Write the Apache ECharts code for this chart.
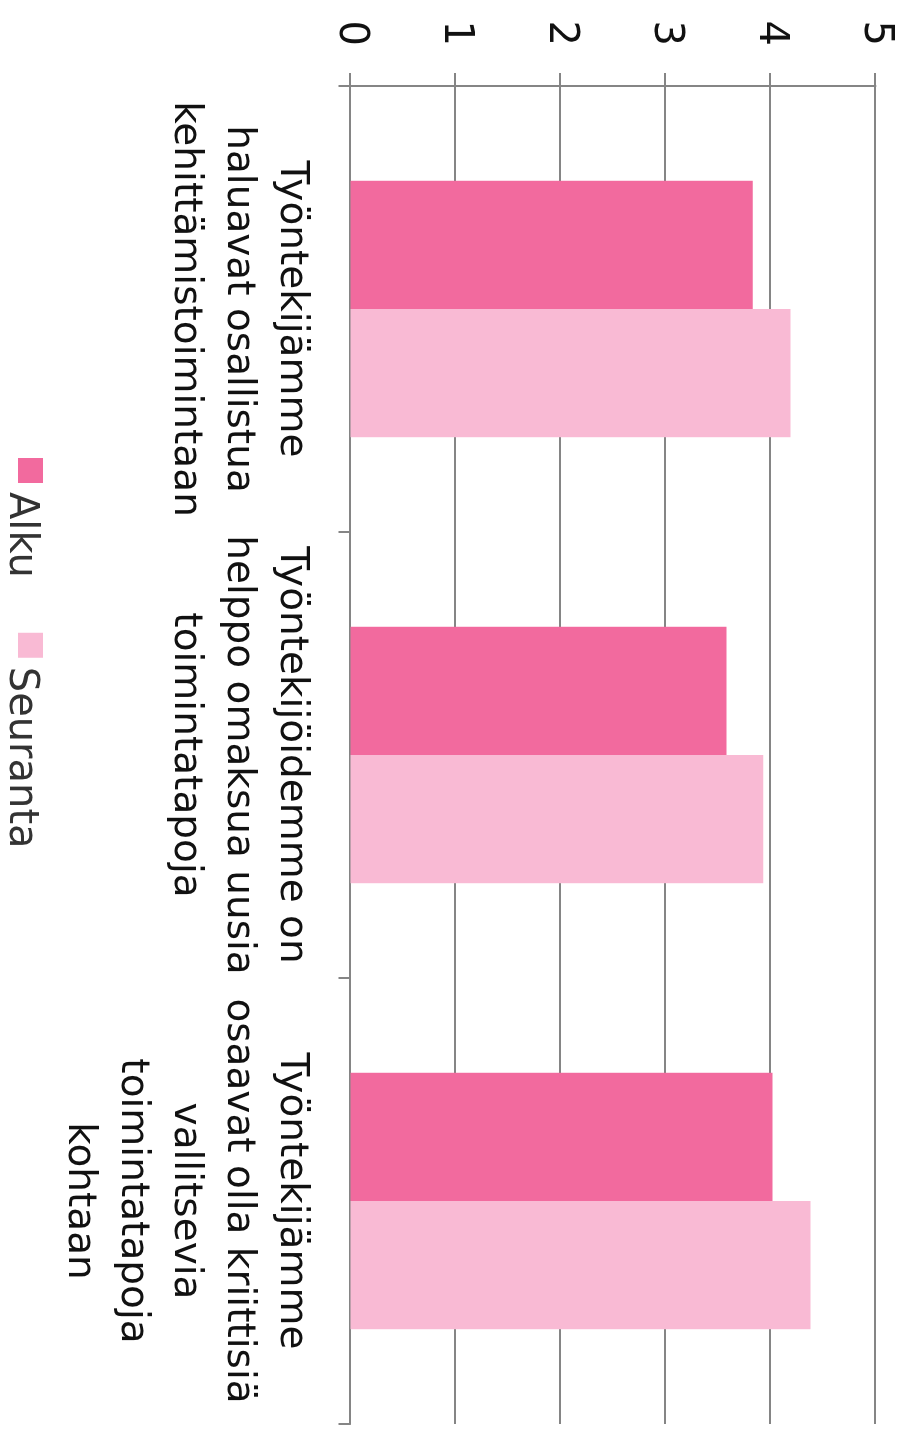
<!DOCTYPE html>
<html>
<head>
<meta charset="utf-8">
<title>Työntekijöiden kehittämisasenteet</title>
<script src="https://cdn.jsdelivr.net/npm/echarts@6/dist/echarts.min.js"></script>
<style>
  html, body { margin: 0; padding: 0; background: #ffffff; overflow: hidden; }
  body { width: 914px; height: 1430px; position: relative; }
  /* The column chart is laid out landscape and turned a quarter turn clockwise */
  #chart {
    position: absolute; left: 0; top: 0;
    width: 1430px; height: 914px;
    transform-origin: 0 0;
    transform: translate(914px, 0) rotate(90deg);
  }
</style>
</head>
<body>
<div id="chart"></div>
<script>
// Statements (category labels, already wrapped into lines)
const categories = [
  'Työntekijämme\nhaluavat osallistua\nkehittämistoimintaan',
  'Työntekijöidemme on\nhelppo omaksua uusia\ntoimintatapoja',
  'Työntekijämme\nosaavat olla kriittisiä\nvallitsevia\ntoimintatapoja\nkohtaan'
];
const seriesNames = ['Alku', 'Seuranta'];
const alku = [3.83, 3.58, 4.02];
const seuranta = [4.19, 3.93, 4.38];
const valueTicks = [0, 1, 2, 3, 4, 5];

const FONT = 'DejaVu Sans';
const GRID_GRAY = '#858585';

const chart = echarts.init(document.getElementById('chart'), null, { renderer: 'canvas' });

chart.setOption({
  animation: false,
  backgroundColor: '#ffffff',
  textStyle: { fontFamily: FONT },
  color: ['#f26a9e', '#f9bad4'],
  grid: { left: 86, right: 6, top: 38.5, bottom: 350.5, containLabel: false },
  legend: {
    data: seriesNames,
    left: 458,
    top: 871,
    padding: 0,
    icon: 'rect',
    itemWidth: 25,
    itemHeight: 25,
    itemGap: 55,
    // legend labels sit slightly below the swatch centre
    formatter: name => '{t|' + name + '}',
    textStyle: {
      fontFamily: FONT, fontSize: 40, color: '#333333',
      rich: {
        t: { fontFamily: FONT, fontSize: 40, color: '#333333', padding: [20, 0, 0, 4] }
      }
    }
  },
  xAxis: {
    type: 'category',
    data: categories,
    axisLine: { show: true, lineStyle: { color: GRID_GRAY, width: 2 } },
    axisTick: { show: true, length: 12, lineStyle: { color: GRID_GRAY, width: 2 } },
    axisLabel: {
      interval: 0,
      margin: 33,
      fontFamily: FONT,
      fontSize: 39,
      lineHeight: 53,
      color: '#111111',
      align: 'center'
    },
    splitLine: { show: false }
  },
  yAxis: {
    type: 'value',
    min: valueTicks[0],
    max: valueTicks[valueTicks.length - 1],
    interval: 1,
    axisLine: { show: true, lineStyle: { color: GRID_GRAY, width: 2 } },
    axisTick: { show: true, length: 13, lineStyle: { color: GRID_GRAY, width: 2 } },
    axisLabel: { margin: 40, fontFamily: FONT, fontSize: 40, color: '#111111' },
    splitLine: { show: true, lineStyle: { color: GRID_GRAY, width: 2 } }
  },
  series: [
    {
      name: seriesNames[0],
      type: 'bar',
      data: alku,
      barGap: '0%',
      barCategoryGap: '42.5%'
    },
    {
      name: seriesNames[1],
      type: 'bar',
      data: seuranta,
      barGap: '0%',
      barCategoryGap: '42.5%'
    }
  ]
});
</script>
</body>
</html>
